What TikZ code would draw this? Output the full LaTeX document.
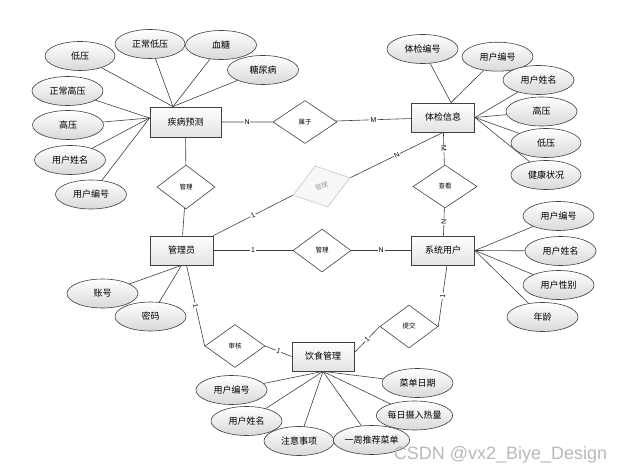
\documentclass[tikz,border=0pt]{standalone}
\usepackage{fontspec}
\newfontfamily\cjk{Noto Sans CJK SC}
\newfontfamily\lab{Liberation Sans}
\usetikzlibrary{shapes.geometric,positioning,calc}
\definecolor{edge}{HTML}{404040}

\begin{document}
\begin{tikzpicture}[
			x=1pt, y=-1pt, % pixel grid of the sketch
			ent/.style={rectangle,draw=edge,line width=0.8pt,top color=white,bottom color=gray!22,minimum width=63pt,minimum height=29pt,inner sep=0pt,font=\cjk\fontsize{9}{9}\selectfont},
			attr/.style={ellipse,draw=edge,line width=0.6pt,top color=white,bottom color=gray!30,minimum width=71pt,minimum height=29pt,inner sep=0pt,font=\cjk\fontsize{9}{9}\selectfont},
			rel/.style={diamond,draw=edge,line width=0.6pt,fill=white,minimum width=60pt,minimum height=43pt,inner sep=0pt,font=\cjk\fontsize{6.5}{6.5}\selectfont},
			faint/.style={draw=gray!45,fill=gray!6,text=gray!75},
			card/.style={fill=white,inner sep=0.8pt,sloped,font=\lab\fontsize{7}{7}\selectfont},
			ln/.style={draw=edge,line width=0.6pt}]
		\useasboundingbox (0,0) rectangle (624,470);
		\path 	(185.5,122) node (jb)  [ent, minimum width=71pt, minimum height=30pt] {疾病预测}
		        (443,117.5) node (tj)  [ent] {体检信息}
		        (181.5,250.5) node (gly) [ent] {管理员}
		        (443,250.5) node (xt)  [ent] {系统用户}
		        (323,356.5) node (ys)  [ent, minimum width=62pt] {饮食管理};
		\path 	(305,122)   node (sy)  [rel, minimum width=64pt] {属于}
		        (186,187)   node (gl1) [rel, minimum width=58pt, minimum height=44pt] {管理}
		        (321.5,186.5) node (gl2) [rel, faint, rotate=17] {管理}
		        (445,186.5) node (ck)  [rel, minimum width=64pt] {查看}
		        (322,250.5) node (gl3) [rel, minimum width=58pt] {管理}
		        (235,346)   node (sh)  [rel] {审核}
		        (409,326.5) node (tjx) [rel, minimum width=58pt] {提交};
		% attributes
		\path 	(80,56)     node (jb1) [attr, minimum width=70pt] {低压}
		        (150,44)    node (jb2) [attr, minimum width=70pt] {正常低压}
		        (221,45)    node (jb3) [attr] {血糖}
		        (263,70)    node (jb4) [attr] {糖尿病}
		        (67.5,91)   node (jb5) [attr] {正常高压}
		        (68,125)    node (jb6) [attr] {高压}
		        (70,160)    node (jb7) [attr] {用户姓名}
		        (91,194.5)  node (jb8) [attr] {用户编号};
		\path 	(422.5,49)  node (tj1) [attr] {体检编号}
		        (497.5,56.7) node (tj2) [attr] {用户编号}
		        (538.5,80)  node (tj3) [attr] {用户姓名}
		        (541.5,111.5) node (tj4) [attr] {高压}
		        (546,143)   node (tj5) [attr, minimum width=70pt] {低压}
		        (546,175)   node (tj6) [attr, minimum width=70pt] {健康状况};
		\path 	(558.5,216) node (xt1) [attr] {用户编号}
		        (560.5,251) node (xt2) [attr] {用户姓名}
		        (558.5,285) node (xt3) [attr] {用户性别}
		        (542.5,317) node (xt4) [attr] {年龄};
		\path 	(102.5,293.5) node (gy1) [attr] {账号}
		        (150.5,316.5) node (gy2) [attr] {密码};
		\path 	(231.5,390) node (ys1) [attr] {用户编号}
		        (246.5,421) node (ys2) [attr] {用户姓名}
		        (299,441)   node (ys3) [attr, minimum width=70pt] {注意事项}
		        (371.5,440) node (ys4) [attr] {一周推荐菜单}
		        (414.5,415.5) node (ys5) [attr] {每日摄入热量}
		        (417.5,383) node (ys6) [attr] {菜单日期};
		\coordinate (jbt) at ([xshift=-12.5pt]jb.north);
		\coordinate (jbl) at ([yshift=4pt]jb.west);
		\coordinate (tjt) at ([xshift=8pt]tj.north);
		\foreach \a in {jb1,jb2,jb3,jb4} \draw [ln] (\a) -- (jbt);
		\foreach \a in {jb5,jb6,jb7,jb8} \draw [ln] (\a) -- (jbl);
		\foreach \a in {tj1,tj2} \draw [ln] (\a) -- (tjt);
		\foreach \a in {tj3,tj4,tj5,tj6} \draw [ln] (\a) -- (tj.east);
		\foreach \a in {xt1,xt2,xt3,xt4} \draw [ln] (\a) -- (xt.east);
		\foreach \a in {gy1,gy2} \draw [ln] (\a) -- (gly.south);
		\foreach \a in {ys1,ys2,ys3,ys4,ys5,ys6} \draw [ln] (\a) -- (ys.south);
		% relationships
		\draw [ln] (jb) -- node [card] {N} (sy) -- node [card] {M} (tj);
		\draw [ln] (jb) -- (gl1) -- (gly);
		\draw [ln] (gly.north east) -- node [card] {1} (gl2.west);
		\draw [ln] (gl2.east) -- node [card] {N} (tj.south);
		\draw [ln] (tj) -- node [card] {M} (ck) -- node [card] {N} (xt);
		\draw [ln] (gly) -- node [card] {1} (gl3) -- node [card] {N} (xt);
		\draw [ln] ([xshift=5pt]gly.south) -- node [card] {1} (sh.west);
		\draw [ln] (sh.east) -- node [card] {1} (ys.west);
		\draw [ln] ([yshift=4pt]ys.east) -- node [card] {1} (tjx.west);
		\draw [ln] (tjx.east) -- node [card] {1} ([xshift=4pt]xt.south);
		\node (wm) at (500.5,455) [font=\lab\fontsize{18}{18}\selectfont, text=gray!55] {CSDN @vx2\_Biye\_Design};
	\end{tikzpicture}
\end{document}
